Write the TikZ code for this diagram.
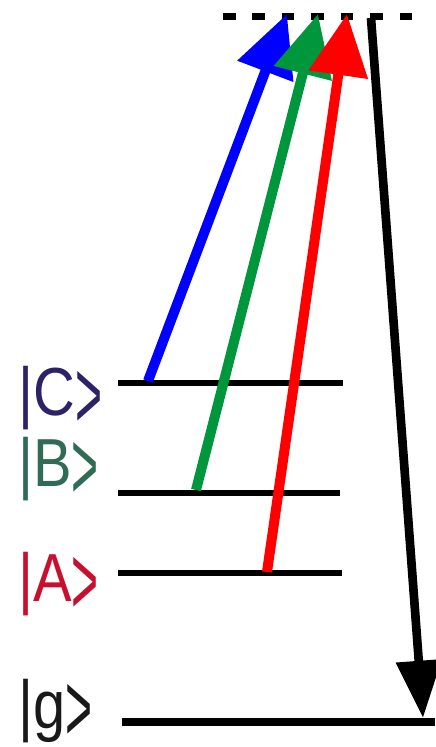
\documentclass[tikz,border=0pt]{standalone}
\usepackage{fontspec}
\setmainfont{Liberation Sans}
\usepackage{xcolor}
\usetikzlibrary{arrows.meta}
\definecolor{stC}{HTML}{2E2266}
\definecolor{stB}{HTML}{2F6B55}
\definecolor{stA}{HTML}{C8102E}
\definecolor{pumpG}{HTML}{00963C}
\newcommand{\ket}[1]{\scalebox{0.85}[1]{|#1\raisebox{-10pt}{\scalebox{0.8}[1.44]{>}}}}
\tikzset{
  level/.style={line width=5pt},
  virt/.style={line width=5pt, dash pattern=on 9.4pt off 12.7pt},
  pump/.style={line width=7.5pt, -{Triangle[length=46pt, width=43pt]}},
  emit/.style={line width=6.5pt, -{Triangle[length=43pt, width=33pt]}},
  lbl/.style={anchor=base west, inner sep=0pt, font=\fontsize{51}{51}\selectfont},
}

\begin{document}
\begin{tikzpicture}[x=0.75pt, y=-0.75pt]
  \useasboundingbox (0,0) rectangle (436,747);

  % --- virtual level (top) ---
  \coordinate (v0) at (223,16.5);
  \coordinate (v1) at (412,16.5);
  \draw[virt] (v0) -- (v1);

  % --- levels ---
  \coordinate (c0) at (118,383);  \coordinate (c1) at (343,383);
  \coordinate (b0) at (118,493);  \coordinate (b1) at (340,493);
  \coordinate (a0) at (118,573);  \coordinate (a1) at (342,573);
  \coordinate (g0) at (122,722);  \coordinate (g1) at (435,722);
  \draw[level] (c0) -- (c1);
  \draw[level] (b0) -- (b1);
  \draw[level] (a0) -- (a1);
  \draw[level, line width=6pt] (g0) -- (g1);

  % --- labels ---
  \node[lbl, stC] (lblC) at (18,415) {\ket{C}};
  \node[lbl, stB] (lblB) at (18,486) {\ket{B}};
  \node[lbl, stA] (lblA) at (18,601) {\ket{A}};
  \node[lbl, black!90] (lblG) at (18,728) {\ket{g}};

  % --- arrows ---
  \coordinate (cs) at (148,381);  \coordinate (ct) at (287,14);
  \coordinate (bs) at (196,490);  \coordinate (bt) at (318,14);
  \coordinate (as) at (267,572);  \coordinate (at) at (347,14);
  \coordinate (gs) at (371,18);   \coordinate (gt) at (423,718);
  \draw[pump, blue] (cs) -- (ct);
  \draw[pump, pumpG] (bs) -- (bt);
  \draw[pump, red] (as) -- (at);
  \draw[emit] (gs) -- (gt);

\end{tikzpicture}
\end{document}
